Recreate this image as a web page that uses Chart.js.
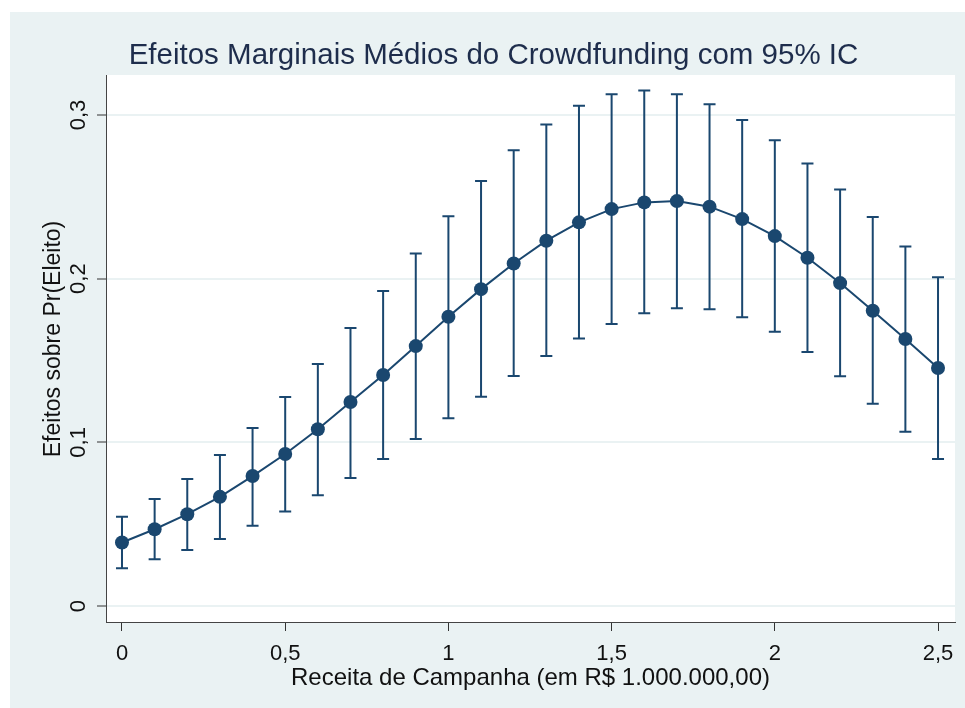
<!DOCTYPE html>
<html>
<head>
<meta charset="utf-8">
<script src="https://cdn.jsdelivr.net/npm/chart.js@4.4.1/dist/chart.umd.min.js"></script>
<style>
  html, body { margin: 0; padding: 0; background: #ffffff; }
  #wrap { position: absolute; left: 10px; top: 12px; width: 955px; height: 696px; }
  canvas { display: block; }
</style>
</head>
<body>
<div id="wrap"><canvas id="c" width="955" height="696"></canvas></div>
<script>
// ---- data ----
const receita = [0, 0.1, 0.2, 0.3, 0.4, 0.5, 0.6, 0.7, 0.8, 0.9, 1.0, 1.1, 1.2,
                 1.3, 1.4, 1.5, 1.6, 1.7, 1.8, 1.9, 2.0, 2.1, 2.2, 2.3, 2.4, 2.5];
const efeito = [0.0388, 0.0469, 0.0561, 0.0667, 0.0794, 0.0929, 0.1080, 0.1246, 0.1411,
                0.1588, 0.1767, 0.1936, 0.2093, 0.2232, 0.2344, 0.2425, 0.2466, 0.2474,
                0.2440, 0.2364, 0.2260, 0.2128, 0.1973, 0.1804, 0.1631, 0.1454];
const icSup = [0.0546, 0.0654, 0.0776, 0.0922, 0.1087, 0.1277, 0.1478, 0.1698, 0.1924,
               0.2154, 0.2382, 0.2596, 0.2784, 0.2942, 0.3056, 0.3126, 0.3150, 0.3126,
               0.3065, 0.2969, 0.2845, 0.2704, 0.2545, 0.2376, 0.2197, 0.2008];
const icInf = [0.0230, 0.0285, 0.0342, 0.0409, 0.0490, 0.0578, 0.0676, 0.0782, 0.0898,
               0.1020, 0.1147, 0.1279, 0.1405, 0.1527, 0.1635, 0.1723, 0.1788, 0.1819,
               0.1813, 0.1764, 0.1676, 0.1552, 0.1403, 0.1236, 0.1065, 0.0898];
const xTicks = [0, 0.5, 1, 1.5, 2, 2.5];
const xTickLabels = ['0', '0,5', '1', '1,5', '2', '2,5'];
const yTicks = [0, 0.1, 0.2, 0.3];
const yTickLabels = ['0', '0,1', '0,2', '0,3'];
const titulo = 'Efeitos Marginais Médios do Crowdfunding com 95% IC';
const tituloX = 'Receita de Campanha (em R$ 1.000.000,00)';
const tituloY = 'Efeitos sobre Pr(Eleito)';

// ---- styles ----
const NAVY = '#1a476f';
const PANEL = '#eaf2f3';
const FONT = '"Liberation Sans", Arial, sans-serif';

const bgPlugin = {
  id: 'bg',
  beforeDraw(chart) {
    const { ctx, chartArea: a } = chart;
    ctx.save();
    ctx.fillStyle = PANEL;
    ctx.fillRect(0, 0, chart.width, chart.height);
    ctx.fillStyle = '#ffffff';
    ctx.fillRect(a.left, a.top, a.right - a.left, a.bottom - a.top);
    ctx.restore();
  }
};

const errPlugin = {
  id: 'errbars',
  beforeDatasetsDraw(chart) {
    const { ctx, scales: { x, y } } = chart;
    ctx.save();
    ctx.strokeStyle = NAVY;
    ctx.lineWidth = 2;
    const cap = 6;
    receita.forEach((v, i) => {
      const px = x.getPixelForValue(v);
      const pt = y.getPixelForValue(icSup[i]);
      const pb = y.getPixelForValue(icInf[i]);
      ctx.beginPath();
      ctx.moveTo(px, pt); ctx.lineTo(px, pb);
      ctx.moveTo(px - cap, pt); ctx.lineTo(px + cap, pt);
      ctx.moveTo(px - cap, pb); ctx.lineTo(px + cap, pb);
      ctx.stroke();
    });
    ctx.restore();
  }
};

const textPlugin = {
  id: 'texts',
  afterDraw(chart) {
    const { ctx, chartArea: a, scales: { x, y } } = chart;
    ctx.save();
    // title
    ctx.fillStyle = '#1e2d4c';
    ctx.font = '29.5px ' + FONT;
    ctx.textAlign = 'center';
    ctx.textBaseline = 'alphabetic';
    ctx.fillText(titulo, 483.5, 52);
    // x tick labels
    ctx.fillStyle = '#111111';
    ctx.font = '22px ' + FONT;
    x.ticks.forEach((t) => {
      ctx.fillText(xTickLabels[xTicks.indexOf(t.value)], x.getPixelForValue(t.value), 648);
    });
    // x title
    ctx.font = '24px ' + FONT;
    ctx.fillText(tituloX, (a.left + a.right) / 2, 673);
    // y tick labels (rotated)
    ctx.font = '22px ' + FONT;
    y.ticks.forEach((t) => {
      ctx.save();
      ctx.translate(75, y.getPixelForValue(t.value));
      ctx.rotate(-Math.PI / 2);
      ctx.fillText(yTickLabels[yTicks.indexOf(t.value)], 0, 0);
      ctx.restore();
    });
    // y title
    ctx.font = '23px ' + FONT;
    ctx.save();
    ctx.translate(50, 327);
    ctx.rotate(-Math.PI / 2);
    ctx.fillText(tituloY, 0, 0);
    ctx.restore();
    ctx.restore();
  }
};

new Chart(document.getElementById('c'), {
  type: 'line',
  data: {
    datasets: [{
      data: receita.map((v, i) => ({ x: v, y: efeito[i] })),
      borderColor: NAVY,
      borderWidth: 2,
      backgroundColor: NAVY,
      pointBackgroundColor: NAVY,
      pointBorderWidth: 0,
      pointRadius: 7,
      tension: 0,
      fill: false
    }]
  },
  options: {
    responsive: false,
    animation: false,
    events: [],
    layout: { padding: { top: 63, right: 10, left: 0, bottom: 0 } },
    plugins: { legend: { display: false }, title: { display: false }, tooltip: { enabled: false } },
    scales: {
      x: {
        type: 'linear',
        min: -0.049,
        max: 2.552,
        afterBuildTicks: (s) => { s.ticks = xTicks.map(v => ({ value: v })); },
        afterFit: (s) => { s.height = 86; },
        ticks: { display: false },
        grid: { drawOnChartArea: false, drawTicks: true, tickLength: 9, tickColor: '#333333', tickWidth: 1 },
        border: { display: true, color: '#444444', width: 1 }
      },
      y: {
        type: 'linear',
        min: -0.00977,
        max: 0.32443,
        afterBuildTicks: (s) => { s.ticks = yTicks.map(v => ({ value: v })); },
        afterFit: (s) => { s.width = 96; },
        ticks: { display: false },
        grid: { color: PANEL, lineWidth: 2, drawTicks: true, tickLength: 9, tickColor: '#333333', tickWidth: 1 },
        border: { display: true, color: '#444444', width: 1 }
      }
    }
  },
  plugins: [bgPlugin, errPlugin, textPlugin]
});
</script>
</body>
</html>
